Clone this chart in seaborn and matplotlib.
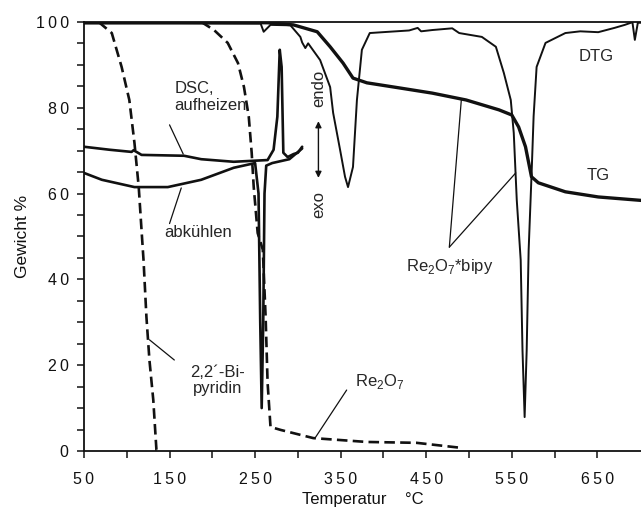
import numpy as np
import pandas as pd
import matplotlib
matplotlib.use("Agg")
import matplotlib.pyplot as plt
from matplotlib.ticker import FuncFormatter
import seaborn as sns

# === Data ===
# TG of Re2O7*bipy
tg_t = [50, 264.6, 294.8, 322.6, 337.7, 352.8, 364.4, 380.6, 419, 457, 496.6, 535, 550,
        558, 566, 573, 581, 612.6, 651, 701]
tg_y = [100, 99.8, 99.3, 97.7, 94.2, 90.4, 86.9, 85.8, 84.6, 83.4, 81.8, 79.5, 78.3,
        75.5, 70.9, 63.9, 62.5, 60.4, 59.2, 58.4]

# DTG of Re2O7*bipy
dtg_t = [50, 256.5, 260, 268, 291.3, 302.9, 305, 308.7, 312, 314.5, 326, 337.7, 341.2,
         349.3, 355.1, 358.6, 364.4, 369, 374.8, 384, 399, 430, 440, 444, 457, 480.4,
         488.5, 515, 531.4, 540.7, 548.8, 552.3, 555.8, 560.4, 562.5, 565, 567.4, 569.7,
         573.2, 575.5, 579, 589.4, 612.6, 630, 651, 670, 682, 689.2, 691, 693.8, 697.3, 701]
dtg_y = [99.6, 99.6, 97.7, 99.3, 99.2, 96.5, 95.2, 93.9, 95.0, 94.3, 91.1, 84.8, 78.8,
         70.2, 63.9, 61.5, 66.2, 81.8, 93.5, 97.4, 97.6, 98.0, 98.6, 97.8, 98.1, 98.5,
         97.4, 96.5, 94.2, 88.1, 81.8, 74.1, 58.5, 44.5, 23.5, 7.9, 23.5, 46.9, 65.0,
         78.0, 89.5, 95.1, 97.4, 97.8, 97.6, 98.6, 99.3, 99.8, 99.9, 95.8, 99.8, 99.8]

# DSC heating / cooling of 2,2'-bipyridine
dsc_heat_t = [50, 80, 105.7, 108, 117.3, 167, 187, 225, 264.6, 271.6, 276, 278.8, 281,
              283, 288, 295, 300, 305]
dsc_heat_y = [70.9, 70.2, 69.7, 70.1, 69.0, 68.8, 68.0, 67.4, 67.8, 70.2, 77.9, 93.5, 89.5,
              69.5, 68.5, 69.2, 69.5, 70.9]
dsc_cool_t = [50, 70.9, 109, 148, 187, 225, 250, 254, 256, 257.7, 259.5, 261, 263,
              270, 290, 305]
dsc_cool_y = [64.8, 63.2, 61.5, 61.5, 63.2, 66.0, 67.1, 60.0, 30.0, 10.0, 30.0, 60.0,
              66.5, 67.1, 68.0, 70.5]

# TG of the pure components
bipy_t = [67, 82.5, 94, 103, 109, 114, 117.5, 119.6, 123, 126.5, 131, 134.7, 140]
bipy_y = [100, 97.4, 89.5, 81.8, 71.8, 61.5, 50.8, 44.5, 31.2, 21.2, 11.9, 0.2, 0]
re2o7_t = [187, 202, 218, 230, 237, 242.6, 246, 248.4, 253, 259, 262.3, 264.6, 268, 280,
           318, 380.6, 438.6, 492]
re2o7_y = [100, 98.1, 95.1, 90.4, 84.8, 77.9, 69.5, 61.5, 50.8, 46.9, 31.2, 15.9, 5.6,
           4.9, 3.0, 2.1, 1.9, 0.7]

x_ticks = [50, 150, 250, 350, 450, 550, 650]
y_ticks = [0, 20, 40, 60, 80, 100]

# === Style ===
sns.set_style("ticks")
plt.rcParams["font.family"] = ["Liberation Sans", "DejaVu Sans"]
plt.rcParams["mathtext.fontset"] = "custom"
plt.rcParams["mathtext.rm"] = "Liberation Sans"

fig = plt.figure(figsize=(6.41, 5.09), dpi=100)
ax = fig.add_axes([0.131, 0.114, 0.869, 0.843])

black = "#111111"


def draw(t, y, lw, dashed=False):
    df = pd.DataFrame({"T": t, "w": y})
    sns.lineplot(data=df, x="T", y="w", ax=ax, sort=False, color=black, lw=lw,
                 estimator=None, dashes=False)
    if dashed:
        ax.lines[-1].set_dashes((4, 2))


draw(dtg_t, dtg_y, 1.4)
draw(tg_t, tg_y, 2.4)
draw(dsc_heat_t, dsc_heat_y, 1.9)
draw(dsc_cool_t, dsc_cool_y, 1.9)
draw(bipy_t, bipy_y, 1.9, dashed=True)
draw(re2o7_t, re2o7_y, 1.9, dashed=True)

# widely spaced digits like the original typesetting
spaced = FuncFormatter(lambda v, p: "\u2009".join(str(int(v))))

ax.set_xlim(50, 701)
ax.set_ylim(0, 100)
ax.set_xticks(x_ticks)
ax.set_xticks([100, 200, 300, 400, 500, 600], minor=True)
ax.set_yticks(y_ticks)
ax.set_yticks(np.arange(0, 101, 5), minor=True)
ax.xaxis.set_major_formatter(spaced)
ax.yaxis.set_major_formatter(spaced)
ax.tick_params(which="both", direction="out", length=5, width=1.1, color=black)
ax.tick_params(labelsize=11.5, colors=black)
ax.tick_params(axis="x", pad=10)
ax.tick_params(axis="y", pad=6)
for s in ["left", "bottom", "top"]:
    ax.spines[s].set_linewidth(1.3)
    ax.spines[s].set_color(black)
ax.spines["right"].set_visible(False)
ax.set_xlabel("Temperatur    °C", fontsize=12, color=black, labelpad=4)
ax.set_ylabel("Gewicht %", fontsize=12.5, color=black, labelpad=4)

# === Annotations ===
fs = 12
ax.text(649, 92, "DTG", fontsize=fs, ha="center", va="center")
ax.text(651, 64.3, "TG", fontsize=fs, ha="center", va="center")
ax.text(477, 43, r"Re$_\mathregular{2}$O$_\mathregular{7}$*bipy", fontsize=fs,
        ha="center", va="center")
ax.plot([477, 491], [47.5, 81.8], color=black, lw=0.9)
ax.plot([477, 554.6], [47.5, 64.8], color=black, lw=0.9)
ax.text(396, 16.2, r"Re$_\mathregular{2}$O$_\mathregular{7}$", fontsize=fs,
        ha="center", va="center")
ax.plot([357, 320], [14.2, 3.0], color=black, lw=0.9)
ax.text(206, 16.5, "2,2´-Bi-\npyridin", fontsize=fs, ha="center", va="center",
        linespacing=1.1)
ax.plot([155.6, 126.6], [21.2, 25.9], color=black, lw=0.9)
ax.text(156, 82.5, "DSC,\naufheizen", fontsize=fs, ha="left", va="center",
        linespacing=1.1)
ax.plot([150, 166], [76, 69.2], color=black, lw=0.9)
ax.text(183, 50.8, "abkühlen", fontsize=fs, ha="center", va="center")
ax.plot([150, 163.7], [53, 61.3], color=black, lw=0.9)

ax.text(324, 84.5, "endo", fontsize=fs, rotation=90, ha="center", va="center")
ax.text(324, 57.5, "exo", fontsize=fs, rotation=90, ha="center", va="center")
ax.annotate("", xy=(324, 77.5), xytext=(324, 63.0),
            arrowprops=dict(arrowstyle="<|-|>", color=black, lw=1.0,
                            mutation_scale=9))

fig.savefig("out.png", dpi=100)
